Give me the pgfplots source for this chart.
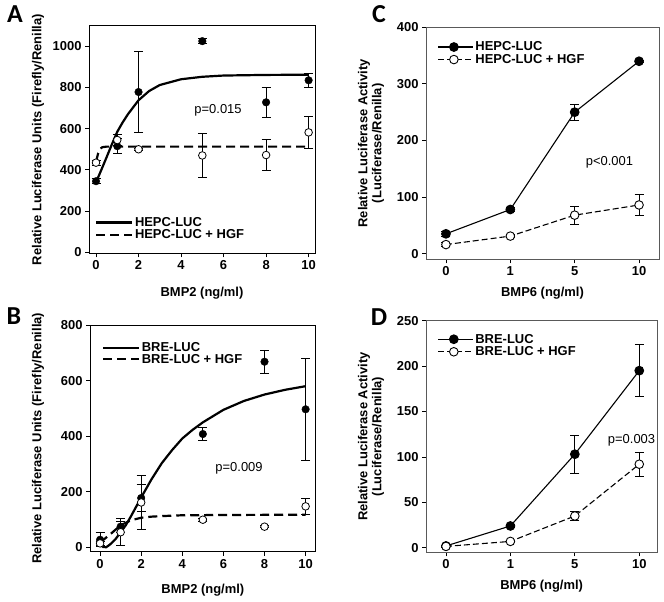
\documentclass[border=0pt]{standalone}
\usepackage{fontspec}
\setmainfont{Liberation Sans}
\newfontfamily\panelfont{Carlito}
\usepackage{pgfplots}
\pgfplotsset{compat=1.18}

\newcommand{\fs}{\fontsize{13}{14}\selectfont}

\pgfplotsset{
  panel/.style={
    scale only axis,
    anchor=south west,
    axis line style={line width=0.8bp},
    tick style={line width=0.8bp, black},
    tick align=outside,
    major tick length=4bp,
    xtick pos=bottom, ytick pos=left,
    tick label style={font=\fs\bfseries},
    /pgf/number format/assume math mode=true,
    /pgf/number format/1000 sep={},
    every axis x label/.style={at={(rel axis cs:0.5,0)}, anchor=center, font=\fs\bfseries},
    every axis y label/.style={at={(rel axis cs:0,0.5)}, anchor=center, rotate=90, font=\fs\bfseries, align=center},
    legend style={draw=none, fill=none, font=\fs\bfseries, inner sep=0pt, row sep=-1bp,
      nodes={inner sep=1.5bp}},
    legend cell align=left,
  },
  curveleg/.style={legend image code/.code={\path (0bp,0bp) -- (36bp,0bp);\draw[##1] (0bp,0bp) -- (32bp,0bp);}},
  markleg/.style={legend image code/.code={\path (0bp,0bp) -- (35bp,0bp);\draw[##1, mark repeat=2, mark phase=2] plot coordinates {(0bp,0bp) (15.5bp,0bp) (31bp,0bp)};}},
  errbars/.style={
    error bars/y dir=both, error bars/y explicit,
    error bars/error bar style={line width=1bp, black, solid},
    error bars/error mark=-,
    error bars/error mark options={rotate=90, line width=1bp, mark size=4.5bp, black, solid}},
  errpts/.style={only marks, mark=*, mark size=3.8bp, errbars},
}

\begin{document}
\begin{tikzpicture}
\path (0bp,0bp) rectangle (664bp,602bp);

% panel letters
\node[font=\panelfont\bfseries\fontsize{26}{26}\selectfont] at (15bp,588bp) {A};
\node[font=\panelfont\bfseries\fontsize{26}{26}\selectfont] at (379bp,588bp) {C};
\node[font=\panelfont\bfseries\fontsize{26}{26}\selectfont] at (14bp,286bp) {B};
\node[font=\panelfont\bfseries\fontsize{26}{26}\selectfont] at (379bp,285bp) {D};

% ---------------- A ----------------
\begin{axis}[panel, curveleg,
  at={(89bp,348.7bp)}, width=226bp, height=227.6bp,
  xmin=-0.33, xmax=10.3, ymin=-5, ymax=1100,
  xtick={0,2,4,6,8,10}, ytick={0,200,400,600,800,1000},
  xlabel={BMP2 (ng/ml)}, ylabel={Relative Luciferase Units (Firefly/Renilla)},
  xlabel style={yshift=-40bp}, ylabel style={yshift=51bp},
  legend style={at={(0.027,0.05)}, anchor=south west},
]
\addplot[line width=2.2bp, black] coordinates {
(0,340) (0.25,400) (0.5,462) (0.75,525) (1,585) (1.25,630) (1.5,670) (2,738)
(2.5,783) (3,812) (4,840) (5,852) (6,858) (8,861) (10,862)};
\addlegendentry{HEPC-LUC}
\addplot[line width=2.2bp, black, dash pattern=on 9bp off 5bp] coordinates {
(0,440) (0.1,480) (0.2,503) (0.3,510) (0.5,513) (10,513)};
\addlegendentry{HEPC-LUC + HGF}
\addplot[black, errpts, mark options={fill=black}, forget plot] table[x=x, y=y, y error=e] {
x y e
0 345 12
1 515 35
2 778 195
5 1025 12
8 728 72
10 835 35
};
\addplot[black, errpts, mark options={fill=white, line width=0.8bp}, forget plot] table[x=x, y=y, y error=e] {
x y e
0 435 12
1 545 28
2 500 5
5 470 108
8 472 74
10 582 78
};
\node[font=\fs] at (axis cs:5.74,690) {p=0.015};
\end{axis}

% ---------------- B ----------------
\begin{axis}[panel, curveleg,
  at={(90bp,50.3bp)}, width=225.7bp, height=226.7bp,
  xmin=-0.49, xmax=10.49, ymin=-15, ymax=800,
  xtick={0,2,4,6,8,10}, ytick={0,200,400,600,800},
  xlabel={BMP2 (ng/ml)}, ylabel={Relative Luciferase Units (Firefly/Renilla)},
  xlabel style={yshift=-38bp}, ylabel style={yshift=52bp},
  legend style={at={(0.053,0.93)}, anchor=north west, row sep=-2bp},
]
\addplot[line width=2.2bp, black] coordinates {
(0,10) (0.15,2) (0.3,1) (0.5,12) (0.75,30) (1,55) (1.25,80) (1.5,112) (2,180)
(2.5,245) (3,303) (3.5,350) (4,392) (4.5,423) (5,450) (6,495) (7,527) (8,550) (9,567) (10,580)};
\addlegendentry{BRE-LUC}
\addplot[line width=2.2bp, black, dash pattern=on 9bp off 5bp] coordinates {
(0,18) (0.5,48) (1,80) (1.5,98) (2,107) (2.5,111) (3,113) (4,116) (6,117) (10,118)};
\addlegendentry{BRE-LUC + HGF}
\addplot[black, errpts, mark options={fill=black}, forget plot] table[x=x, y=y, y error=e] {
x y e
0 28 25
1 75 20
2 178 50
5 408 24
8 668 41
10 497 183
};
\addplot[black, errpts, mark options={fill=white, line width=0.8bp}, forget plot] table[x=x, y=y, y error=e] {
x y e
0 15 8
1 55 48
2 162 97
5 100 5
8 75 3
10 148 30
};
\node[font=\fs] at (axis cs:6.76,285) {p=0.009};
\end{axis}

% ---------------- C ----------------
\begin{axis}[panel, markleg,
  at={(426bp,342.7bp)}, width=233bp, height=232bp,
  axis line style={line width=0.8bp, black!65},
  xmin=-0.31, xmax=3.31, ymin=-10, ymax=400,
  xtick={0,1,2,3}, xticklabels={0,1,5,10}, ytick={0,100,200,300,400},
  xlabel={BMP6 (ng/ml)}, ylabel={Relative Luciferase Activity\\(Luciferase/Renilla)},
  xlabel style={yshift=-34bp}, ylabel style={yshift=55bp},
  legend style={at={(0.05,0.945)}, anchor=north west},
]
\addplot[black, line width=1.1bp, mark=*, mark size=4.3bp, mark options={solid, fill=black}, errbars]
  table[x=x, y=y, y error=e] {
x y e
0 35 5
1 78 3
2 250 14
3 340 2
};
\addlegendentry{HEPC-LUC}
\addplot[black, line width=1.1bp, dash pattern=on 6bp off 3bp, mark=*, mark size=4.3bp,
  mark options={solid, fill=white, line width=0.9bp}, errbars]
  table[x=x, y=y, y error=e] {
x y e
0 16 3
1 31 3
2 68 16
3 86 18
};
\addlegendentry{HEPC-LUC + HGF}
\node[font=\fs] at (axis cs:2.54,162) {p<0.001};
\end{axis}

% ---------------- D ----------------
\begin{axis}[panel, markleg,
  at={(426bp,49.7bp)}, width=231.3bp, height=231.6bp,
  axis line style={line width=0.8bp, black!65},
  xmin=-0.31, xmax=3.28, ymin=-5, ymax=250,
  xtick={0,1,2,3}, xticklabels={0,1,5,10}, ytick={0,50,100,150,200,250},
  xlabel={BMP6 (ng/ml)}, ylabel={Relative Luciferase Activity\\(Luciferase/Renilla)},
  xlabel style={yshift=-34bp}, ylabel style={yshift=55bp},
  legend style={at={(0.05,0.95)}, anchor=north west},
]
\addplot[black, line width=1.1bp, mark=*, mark size=4.3bp, mark options={solid, fill=black}, errbars]
  table[x=x, y=y, y error=e] {
x y e
0 2 1
1 24 2
2 103 21
3 195 29
};
\addlegendentry{BRE-LUC}
\addplot[black, line width=1.1bp, dash pattern=on 6bp off 3bp, mark=*, mark size=4.3bp,
  mark options={solid, fill=white, line width=0.9bp}, errbars]
  table[x=x, y=y, y error=e] {
x y e
0 1.5 1
1 7 1
2 35 5
3 92 13
};
\addlegendentry{BRE-LUC + HGF}
\node[font=\fs] at (axis cs:2.88,118) {p=0.003};
\end{axis}
\end{tikzpicture}
\end{document}
